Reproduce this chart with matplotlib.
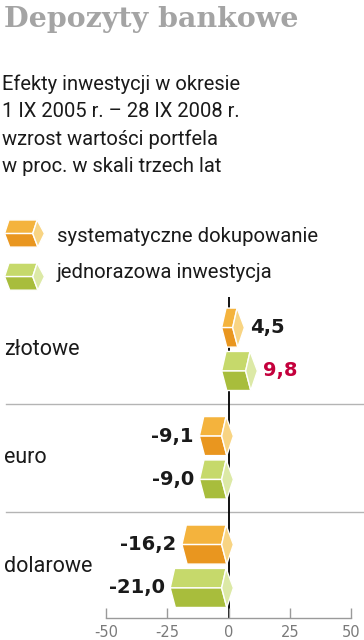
import matplotlib
matplotlib.use("Agg")
import matplotlib.pyplot as plt
import matplotlib.transforms as mtransforms
from matplotlib.patches import Polygon

categories = ["złotowe", "euro", "dolarowe"]
systematic = [4.5, -9.1, -16.2]
one_time = [9.8, -9.0, -21.0]
series_names = ["systematyczne dokupowanie", "jednorazowa inwestycja"]
ticks = [-50, -25, 0, 25, 50]

title = "Depozyty bankowe"
subtitle = ["Efekty inwestycji w okresie",
            "1 IX 2005 r. \u2013 28 IX 2008 r.",
            "wzrost wartości portfela",
            "w proc. w skali trzech lat"]

orange = ("#f4b33d", "#e9961f", "#f8d483")
green = ("#c6d96b", "#a8bd3c", "#dce9a6")

W, H = 364, 640
fig = plt.figure(figsize=(W / 100, H / 100), dpi=100)

def fx(px):
    return px / W

def fy(py):
    return 1 - py / H

sans = ["Roboto", "DejaVu Sans"]

ax = fig.add_axes([fx(106), fy(618), fx(245), (618 - 297) / H])
ax.set_xlim(-50, 50)
ax.set_ylim(2.477, -0.482)

def prism(ax, x0, x1, yc, h, cols, dl=-1.8, db=0.3, dr=3.0, clip=True):
    top, mid, bot = yc - h / 2, yc, yc + h / 2
    faces = [
        [(x0, top), (x1, top), (x1 + dl, mid), (x0 + dl, mid)],
        [(x0 + dl, mid), (x1 + dl, mid), (x1 + db, bot), (x0 + db, bot)],
        [(x1, top), (x1 + dr, mid), (x1 + db, bot), (x1 + dl, mid)],
    ]
    for pts, c in zip(faces, cols):
        ax.add_patch(Polygon(pts, closed=True, facecolor=c, edgecolor="white",
                             lw=1, zorder=3, clip_on=clip))

ax.axvline(0, color="black", lw=1.3, zorder=1)

bar_h = 0.36
off = 0.2
shift = -1.0
gap = 2.2
left_tr = mtransforms.blended_transform_factory(fig.transFigure, ax.transData)
for i, cat in enumerate(categories):
    for vals, cols, dy in [(systematic, orange, -off), (one_time, green, off)]:
        v = vals[i]
        yc = i + dy
        prism(ax, min(v, 0) + shift, max(v, 0) + shift, yc, bar_h, cols)
        lab = f"{v:.1f}".replace(".", ",")
        col = "#c4003c" if (vals is one_time and i == 0) else "#1a1a1a"
        if v >= 0:
            ax.text(v + shift + 3.0 + gap, yc, lab, ha="left", va="center",
                    fontsize=14, fontweight="bold", color=col)
        else:
            ax.text(v + shift - 1.8 - gap, yc, lab, ha="right", va="center",
                    fontsize=14, fontweight="bold", color=col)
    ax.text(fx(4), i + 0.05, cat, transform=left_tr, ha="left", va="baseline",
            fontsize=15.5, family=sans, color="#1a1a1a")

for yy in [0.5, 1.5]:
    ax.axhline(yy, xmin=(6 - 106) / 245, xmax=(364 - 106) / 245, color="#b4b4b4",
               lw=1, clip_on=False, zorder=0)

# legend icons
for k, cols in enumerate([orange, green]):
    prism(ax, -89.6, -78.1, -1.067 + k * 0.397, 0.25, cols, clip=False)
    fig.text(fx(57), fy(242 + k * 36), series_names[k], ha="left", va="baseline",
             fontsize=14.6, family=sans, color="#1a1a1a")

for s in ["top", "left", "right"]:
    ax.spines[s].set_visible(False)
ax.spines["bottom"].set_color("#9a9a9a")
ax.spines["bottom"].set_linewidth(1)
ax.set_xticks(ticks)
ax.set_xticklabels([str(t) for t in ticks])
ax.tick_params(axis="x", direction="in", length=7, width=1, color="#9a9a9a",
               labelcolor="#7a7a7a", labelsize=10.5, pad=5)
ax.set_yticks([])
ax.patch.set_alpha(0)

fig.text(fx(4), fy(6), title, ha="left", va="top", fontsize=20.5,
         fontweight="bold", family="DejaVu Serif", color="#a4a4a4")
for j, line in enumerate(subtitle):
    fig.text(fx(2), fy(90 + j * 27.3), line, ha="left", va="baseline",
             fontsize=14.5, family=sans, color="#1a1a1a")

fig.savefig("out.png", dpi=100)
